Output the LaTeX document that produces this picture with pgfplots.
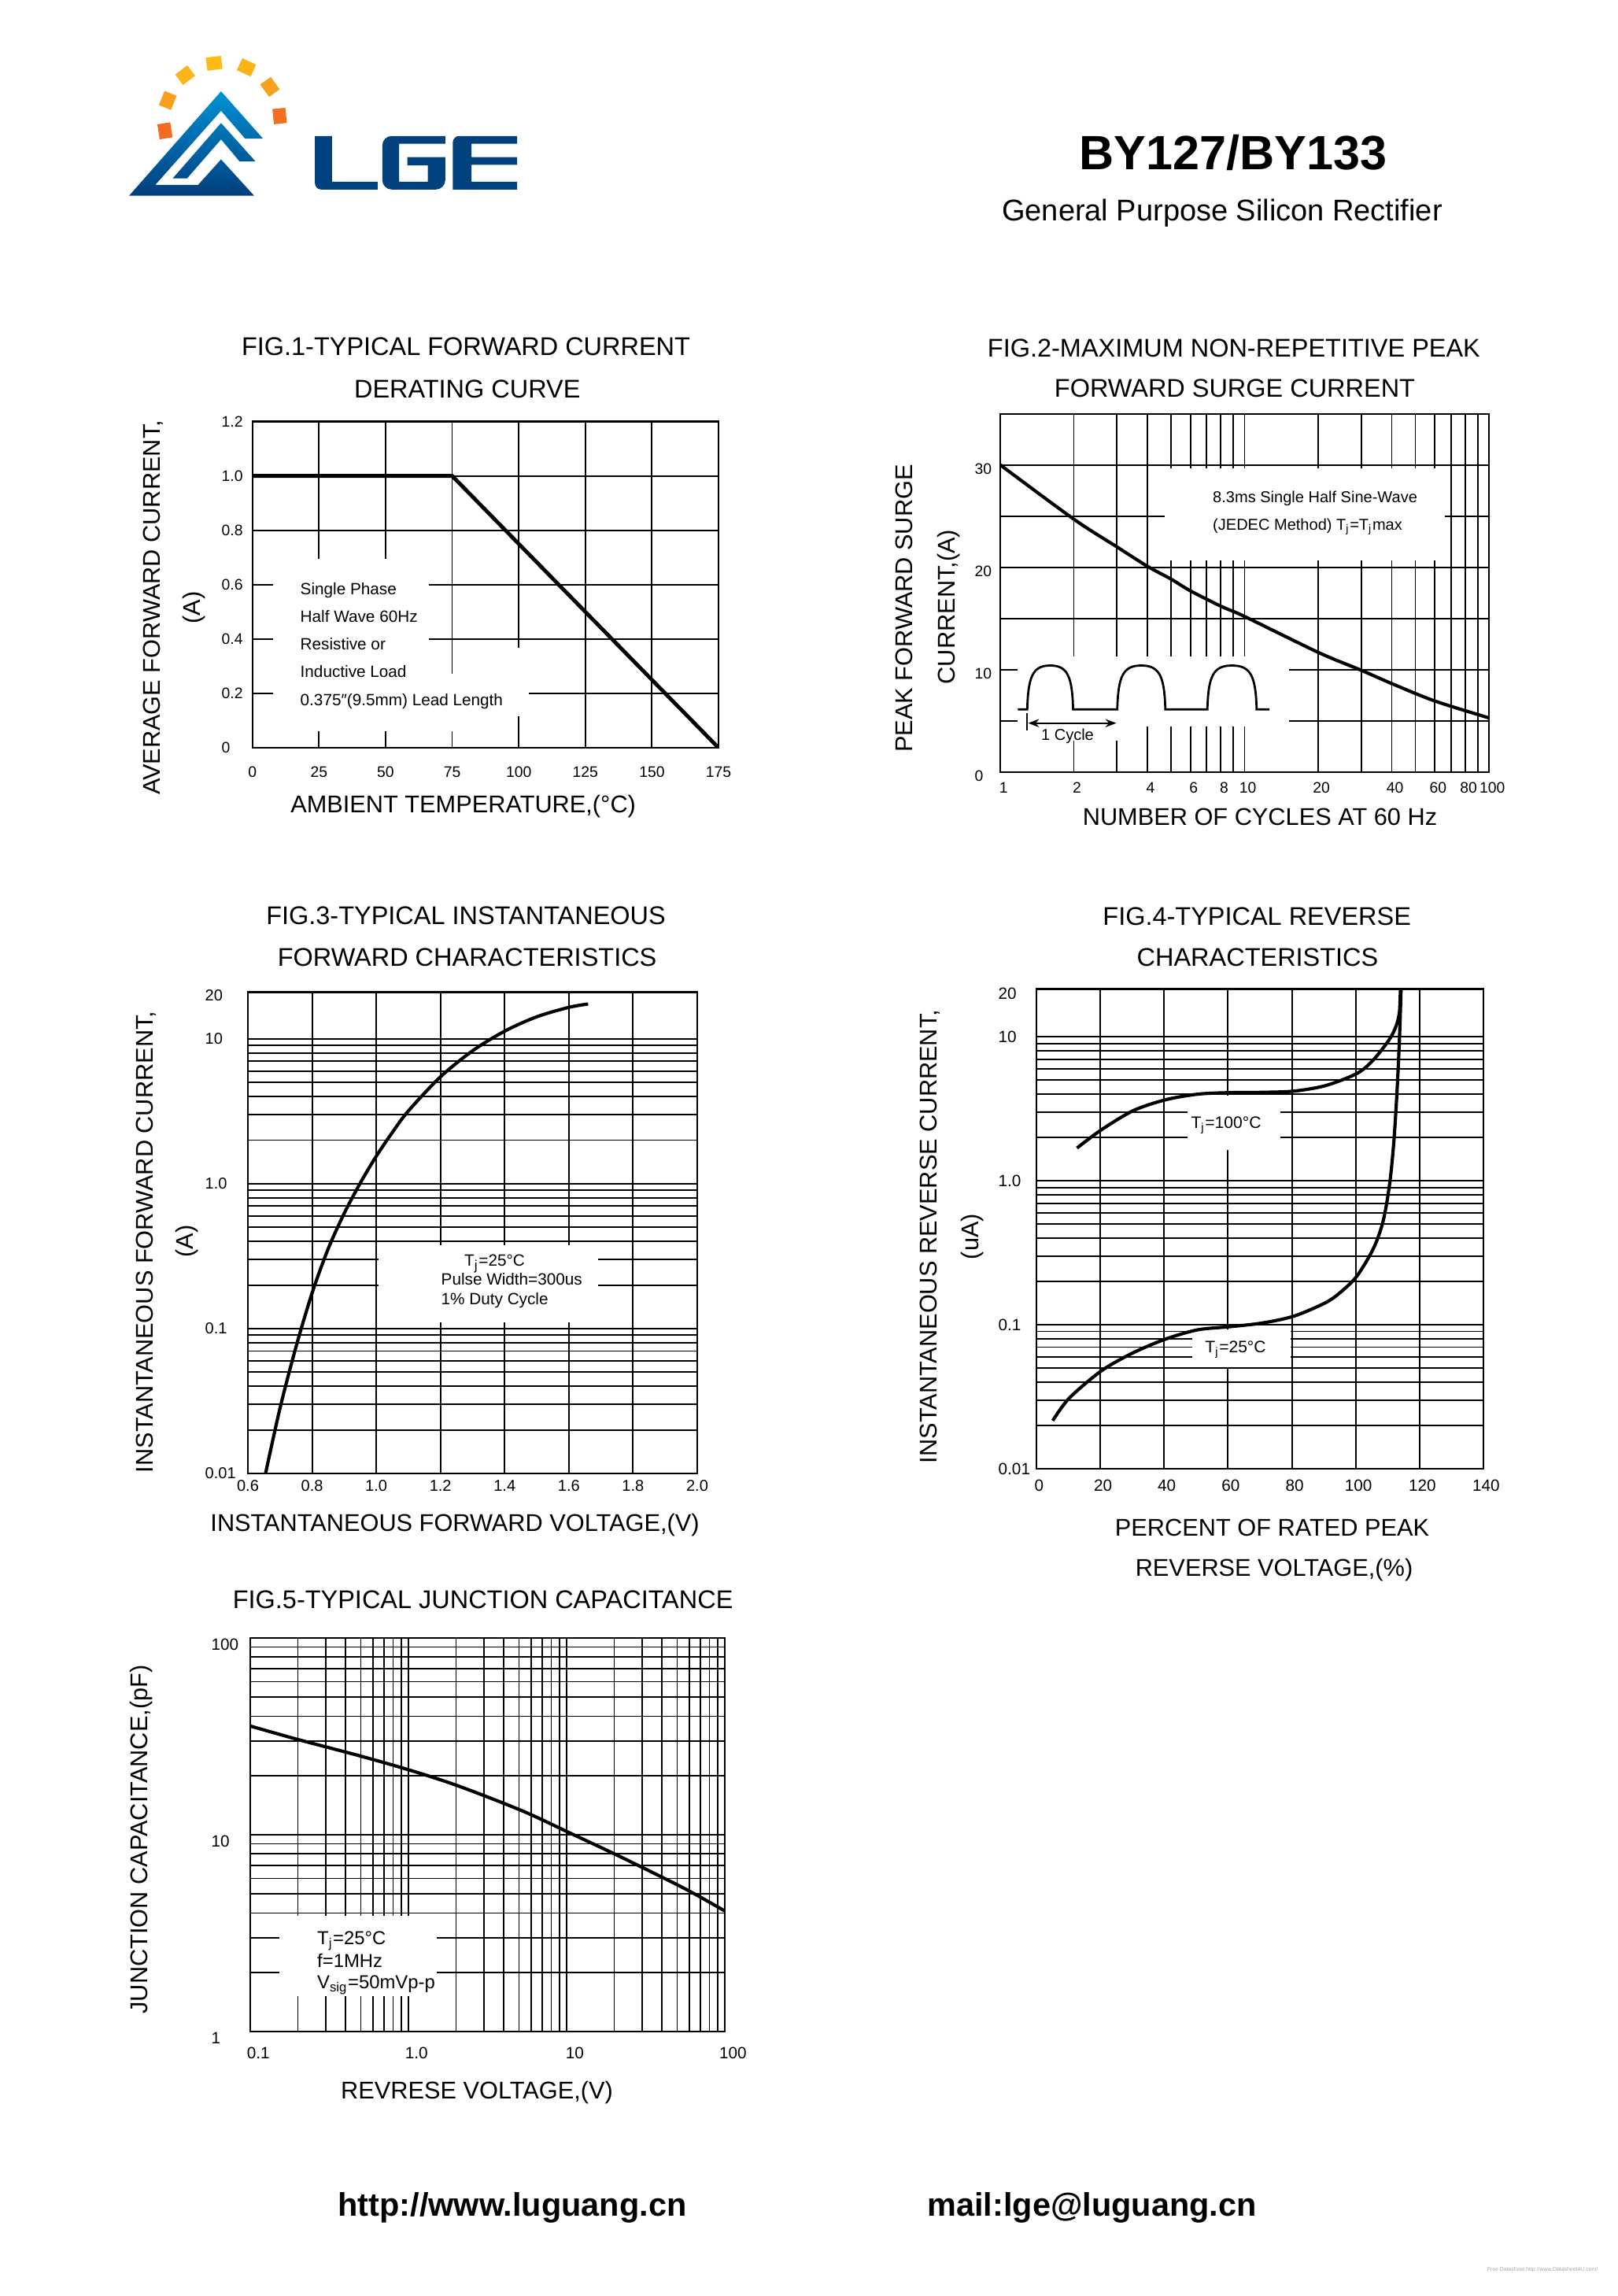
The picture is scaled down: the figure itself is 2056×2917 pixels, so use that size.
\documentclass[border=0pt]{standalone}
\usepackage{fontspec}
\setmainfont{Liberation Sans}
\usepackage{pgfplots}
\pgfplotsset{compat=1.18}
\usetikzlibrary{arrows.meta}
\definecolor{lgeblue}{RGB}{0,65,126}
\definecolor{logotop}{RGB}{0,146,214}
\definecolor{logobot}{RGB}{0,62,124}
\newcommand\fs[1]{\fontsize{#1}{#1}\selectfont}

\pgfplotsset{
 ds/.style={
  scale only axis, anchor=south west,
  axis line style={line width=0.6pt, black},
  grid style={line width=0.55pt, black},
  major grid style={line width=0.55pt, black},
  minor grid style={line width=0.55pt, black},
  major tick length=0pt, minor tick length=0pt,
  tick style={draw=none},
  /pgf/number format/assume math mode=true,
  every tick label/.append style={inner sep=0pt, text=black},
 },
}

\begin{document}
\begin{tikzpicture}[x=0.289531pt, y=-0.289531pt]
\path[use as bounding box] (0,0) rectangle (2056,2917);
\coordinate (f1) at (320.7,950);
\coordinate (f2) at (1271,981);
\coordinate (f3) at (315,1872);
\coordinate (f4) at (1317,1866);
\coordinate (f5) at (318,2581);

% ---------------- Logo ----------------
\shade[top color=logotop, bottom color=logobot]
 (164.0,248.7) -- (280.9,116.0) -- (334.2,176.1) -- (311.4,176.1) -- (280.9,140.8) -- (197.4,234.8) -- (251.8,234.8) -- (280.9,202.5) -- (323.0,248.7) -- cycle
 (219.5,226.6) -- (280.9,156.3) -- (324.7,205.1) -- (304.4,205.1) -- (280.9,177.1) -- (237.7,226.6) -- cycle;
\foreach \px/\py/\ang/\col in {209.6/166.2/188.9/F26B21, 213.2/127.6/158/F8A01D, 235.3/95.5/127.5/FBB419, 272.1/80.4/96.8/FDBB14, 313.2/85.6/65.1/FBB219, 343.0/110.4/35.7/F7A11F, 355.3/147.4/5.8/F37021}{
  \definecolor{sq}{HTML}{\col}
  \node[fill=sq, inner sep=0pt, minimum width=4.8pt, minimum height=5.6pt, rotate=\ang] at (\px,\py) {};
}
\fill[lgeblue] (400.2,172.8) -- (421.9,172.8) -- (421.9,230.9) -- (479.8,230.9) -- (479.8,240.8) -- (408.2,240.8) .. controls (403.8,240.8) and (400.2,237.2) .. (400.2,232.8) -- cycle;
\fill[lgeblue] (565.8,172.8) -- (497.8,172.8) .. controls (491.2,172.8) and (485.8,178.2) .. (485.8,184.8) -- (485.8,228.8) .. controls (485.8,235.4) and (491.2,240.8) .. (497.8,240.8) -- (553.8,240.8) .. controls (560.4,240.8) and (565.8,235.4) .. (565.8,228.8) -- (565.8,199.5) -- (517.7,199.5) -- (517.7,210.1) -- (543.7,210.1) -- (543.7,230.9) -- (507.2,230.9) -- (507.2,182.7) -- (565.8,182.7) -- cycle;
\fill[lgeblue] (575.4,240.8) -- (575.4,180.8) .. controls (575.4,176.4) and (579,172.8) .. (583.4,172.8) -- (657,172.8) -- (657,182.7) -- (599.1,182.7) -- (599.1,199.5) -- (657,199.5) -- (657,209.4) -- (599.1,209.4) -- (599.1,230.9) -- (657,230.9) -- (657,240.8) -- cycle;

% ---------------- Header ----------------
\node[anchor=base, font=\fs{17.7}\bfseries] at (1566.7,215.4) {BY127/BY133};
\node[anchor=base, font=\fs{11}] at (1553,280) {General Purpose Silicon Rectifier};

% ---------------- FIG 1 ----------------
\begin{axis}[ds, at={(f1)}, width=171.49pt, height=120.01pt,
 xmin=0, xmax=175, ymin=0, ymax=1.2,
 xtick={0,25,50,75,100,125,150,175}, xticklabels={0,25,50,75,100,125,150,175},
 ytick={0,0.2,0.4,0.6,0.8,1.0,1.2}, yticklabels={0,0.2,0.4,0.6,0.8,1.0,1.2},
 grid=major,
 tick label style={font=\fs{5.6}},
 yticklabel style={anchor=west, xshift=-11.49pt},
 xticklabel style={anchor=base, yshift=-10.71pt},
]
\fill[white] (axis cs:7.9,0.271) rectangle (axis cs:66.2,0.694);
\fill[white] (axis cs:7.9,0.060) rectangle (axis cs:90,0.271);
\fill[white] (axis cs:90,0.115) rectangle (axis cs:103.8,0.368);
\addplot[line width=1.4pt, black] coordinates {(0,1.0) (75,1.0) (175,0)};
\end{axis}
\node[anchor=base, font=\fs{9.4}] at (592,451) {FIG.1-TYPICAL FORWARD CURRENT};
\node[anchor=base, font=\fs{9.4}] at (593.8,505.4) {DERATING CURVE};
\node[anchor=base, font=\fs{8.9}] at (588.6,1032) {AMBIENT TEMPERATURE,(°C)};
\node[anchor=base, rotate=90, font=\fs{8.9}] at (203.6,772) {AVERAGE FORWARD CURRENT,};
\node[anchor=base, rotate=90, font=\fs{8.9}] at (254.4,772) {(A)};
\begin{scope}[font=\fs{6}]
\node[anchor=base west] at (369.5,755.1) {Single Phase};
\node[anchor=base west] at (369.5,790.3) {Half Wave 60Hz};
\node[anchor=base west] at (369.5,825.4) {Resistive or};
\node[anchor=base west] at (369.5,860.6) {Inductive Load};
\node[anchor=base west] at (369.5,896) {0.375″(9.5mm) Lead Length};
\end{scope}

% ---------------- FIG 2 ----------------
\begin{axis}[ds, at={(f2)}, width=179.80pt, height=131.88pt,
 xmode=log, xmin=1, xmax=100, ymin=0, ymax=35,
 xtick={1,2,4,6,8,10,20,40,60,80,100}, xticklabels={1,2,4,6,8,10,20,40,60,80,100},
 minor xtick={3,5,7,9,30,50,70,90},
 ytick={0,10,20,30}, yticklabels={0,10,20,30}, minor ytick={5,15,25},
 grid=both,
 tick label style={font=\fs{5.6}},
 yticklabel style={anchor=west, xshift=-9.55pt, yshift=-1.4pt},
 xticklabel style={anchor=base, yshift=-7.53pt, xshift=1.2pt},
]
\fill[white] (axis cs:4.70,20.7) rectangle (axis cs:65.8,29.65);
\fill[white] (axis cs:1.18,4.45) rectangle (axis cs:15.2,11.3);
\fill[white] (axis cs:1.9,3.1) rectangle (axis cs:3.1,4.45);
\addplot[line width=1.2pt, black, smooth] coordinates {(1,30) (2,24.7) (3,22.0) (4,20.1) (5,18.85) (6,17.7) (8,16.2) (10,15.2) (20,11.7) (30,9.95) (40,8.65) (60,6.95) (100,5.3)};
\end{axis}
\node[anchor=base, font=\fs{9.4}] at (1567.9,453) {FIG.2-MAXIMUM NON-REPETITIVE PEAK};
\node[anchor=base, font=\fs{9.4}] at (1569,504) {FORWARD SURGE CURRENT};
\node[anchor=base, font=\fs{8.9}] at (1601,1048) {NUMBER OF CYCLES AT 60 Hz};
\node[anchor=base, rotate=90, font=\fs{8.9}] at (1159,773) {PEAK FORWARD SURGE};
\node[anchor=base, rotate=90, font=\fs{8.9}] at (1213,771) {CURRENT,(A)};
\node[anchor=base west, font=\fs{5.8}] at (1529,638) {8.3ms Single Half Sine-Wave};
\node[anchor=base west, font=\fs{5.8}] at (1529,673) {(JEDEC Method) T\textsubscript{j}=T\textsubscript{j}max};
\draw[line width=0.8pt] (1293.3,901.3) -- (1305.3,901.3)
 .. controls (1306.5,860) and (1312,845.5) .. (1334.4,845.5) .. controls (1357,845.5) and (1362.4,860) .. (1363.6,901.3)
 -- (1419.7,901.3)
 .. controls (1420.9,860) and (1426.4,845.5) .. (1450.2,845.5) .. controls (1474,845.5) and (1479.6,860) .. (1480.8,901.3)
 -- (1534.2,901.3)
 .. controls (1535.4,860) and (1540.9,845.5) .. (1565.5,845.5) .. controls (1590,845.5) and (1595.6,860) .. (1596.8,901.3)
 -- (1613.2,901.3);
\draw[line width=0.6pt, {Stealth[length=4pt,width=3pt]}-{Stealth[length=4pt,width=3pt]}] (1306.5,918.7) -- (1418.5,918.7);
\draw[line width=0.6pt] (1305.3,905.7) -- (1305.3,927.5);
\node[anchor=base, font=\fs{5.8}] at (1356.5,940.6) {1 Cycle};

% ---------------- FIG 3 ----------------
\begin{axis}[ds, at={(f3)}, width=165.32pt, height=177.05pt,
 xmin=0.6, xmax=2.0, ymode=log, ymin=0.01, ymax=21,
 xtick={0.6,0.8,1.0,1.2,1.4,1.6,1.8,2.0}, xticklabels={0.6,0.8,1.0,1.2,1.4,1.6,1.8,2.0},
 ytick={0.01,0.1,1,10}, yticklabels={0.01,0.1,1.0,10},
 extra y ticks={20}, extra y tick labels={20}, extra y tick style={grid=none},
 minor ytick={0.02,0.03,0.04,0.05,0.06,0.07,0.08,0.09,0.2,0.3,0.4,0.5,0.6,0.7,0.8,0.9,2,3,4,5,6,7,8,9},
 grid=both,
 tick label style={font=\fs{5.8}},
 yticklabel style={anchor=west, xshift=-15.92pt},
 xticklabel style={anchor=base, yshift=-6.49pt},
]
\fill[white] (axis cs:1.006,0.110) rectangle (axis cs:1.692,0.375);
\addplot[line width=1.2pt, black, smooth, tension=0.5] coordinates {(0.655,0.01) (0.70,0.0282) (0.75,0.075) (0.80,0.176) (0.85,0.355) (0.90,0.624) (0.95,1.01) (1.0,1.55) (1.05,2.26) (1.1,3.18) (1.2,5.47) (1.3,8.27) (1.4,11.3) (1.5,14.2) (1.6,16.5) (1.66,17.4)};
\end{axis}
\node[anchor=base, font=\fs{9.4}] at (592,1174.3) {FIG.3-TYPICAL INSTANTANEOUS};
\node[anchor=base, font=\fs{9.4}] at (593.6,1227.2) {FORWARD CHARACTERISTICS};
\node[anchor=base, font=\fs{8.9}] at (578,1945) {INSTANTANEOUS FORWARD VOLTAGE,(V)};
\node[anchor=base, rotate=90, font=\fs{8.9}] at (194,1578) {INSTANTANEOUS FORWARD CURRENT,};
\node[anchor=base, rotate=90, font=\fs{8.9}] at (245.5,1577) {(A)};
\node[anchor=base, font=\fs{6}] at (628.5,1608) {T\textsubscript{j}=25°C};
\node[anchor=base west, font=\fs{6}] at (548.5,1632.4) {Pulse Width=300us};
\node[anchor=base west, font=\fs{6}] at (548.5,1657.4) {1\% Duty Cycle};

% ---------------- FIG 4 ----------------
\begin{axis}[ds, at={(f4)}, width=164.45pt, height=176.47pt,
 xmin=0, xmax=140, ymode=log, ymin=0.01, ymax=21.5,
 xtick={0,20,40,60,80,100,120,140}, xticklabels={0,20,40,60,80,100,120,140},
 ytick={0.01,0.1,1,10}, yticklabels={0.01,0.1,1.0,10},
 extra y ticks={20}, extra y tick labels={20}, extra y tick style={grid=none},
 minor ytick={0.02,0.03,0.04,0.05,0.06,0.07,0.08,0.09,0.2,0.3,0.4,0.5,0.6,0.7,0.8,0.9,2,3,4,5,6,7,8,9},
 grid=both,
 tick label style={font=\fs{6}},
 yticklabel style={anchor=west, xshift=-14.19pt},
 xticklabel style={anchor=base, yshift=-8.3pt, xshift=1pt},
]
\fill[white] (axis cs:47.4,1.63) rectangle (axis cs:76.3,3.89);
\fill[white] (axis cs:48.7,0.0508) rectangle (axis cs:79.7,0.0923);
\addplot[line width=1.2pt, black, smooth] coordinates {(12.7,1.69) (20.3,2.26) (30.4,3.08) (40.5,3.66) (50.5,4.0) (60.5,4.1) (70.6,4.12) (80.6,4.2) (90.6,4.59) (100.5,5.59) (105.6,6.95) (110.6,9.64) (112.7,12.0) (113.7,14.9) (114.0,21.5)};
\addplot[line width=1.2pt, black, smooth] coordinates {(5.1,0.0216) (10.3,0.031) (20.4,0.048) (30.4,0.0641) (40.5,0.0797) (50.5,0.0923) (60.5,0.097) (70.6,0.1028) (80.6,0.1148) (90.6,0.1426) (95.6,0.171) (100.5,0.22) (105.6,0.341) (108.6,0.527) (110.6,0.942) (111.9,1.82) (112.9,4.03) (113.7,9.64) (114.2,21.5)};
\end{axis}
\node[anchor=base, font=\fs{9.4}] at (1597.2,1175.1) {FIG.4-TYPICAL REVERSE};
\node[anchor=base, font=\fs{9.4}] at (1598,1227) {CHARACTERISTICS};
\node[anchor=base, font=\fs{8.9}] at (1616.5,1951.5) {PERCENT OF RATED PEAK};
\node[anchor=base, font=\fs{8.9}] at (1619,2002.5) {REVERSE VOLTAGE,(\%)};
\node[anchor=base, rotate=90, font=\fs{8.9}] at (1190.5,1571) {INSTANTANEOUS REVERSE CURRENT,};
\node[anchor=base, rotate=90, font=\fs{8.9}] at (1243.5,1571) {(uA)};
\node[anchor=base, font=\fs{6.1}] at (1558,1433.5) {T\textsubscript{j}=100°C};
\node[anchor=base, font=\fs{6.1}] at (1570,1718.5) {T\textsubscript{j}=25°C};

% ---------------- FIG 5 ----------------
\begin{axis}[ds, at={(f5)}, width=174.59pt, height=144.77pt,
 xmode=log, ymode=log, xmin=0.1, xmax=100, ymin=1, ymax=100,
 xtick={0.1,1,10,100}, xticklabels={0.1,1.0,10,100},
 minor xtick={0.2,0.3,0.4,0.5,0.6,0.7,0.8,0.9,2,3,4,5,6,7,8,9,20,30,40,50,60,70,80,90},
 ytick={1,10,100}, yticklabels={1,10,100},
 minor ytick={2,3,4,5,6,7,8,9,20,30,40,50,60,70,80,90},
 grid=both,
 tick label style={font=\fs{6}},
 yticklabel style={anchor=west, xshift=-14.48pt, yshift=-2.3pt},
 xticklabel style={anchor=base, yshift=-9.96pt, xshift=3pt},
]
\fill[white] (axis cs:0.153,1.51) rectangle (axis cs:1.51,3.87);
\addplot[line width=1.2pt, black, smooth] coordinates {(0.1,35.7) (0.2,30.5) (0.5,25.1) (1.02,21.3) (2.07,17.7) (5.28,13.2) (10.8,10.1) (21.9,7.73) (55.7,5.33) (100,4.1)};
\end{axis}
\node[anchor=base, font=\fs{9.4}] at (613.6,2043.9) {FIG.5-TYPICAL JUNCTION CAPACITANCE};
\node[anchor=base, font=\fs{8.9}] at (606,2666) {REVRESE VOLTAGE,(V)};
\node[anchor=base, rotate=90, font=\fs{8.9}] at (187,2337) {JUNCTION CAPACITANCE,(pF)};
\node[anchor=base west, font=\fs{6.9}] at (391,2470.5) {T\textsubscript{j}=25°C};
\node[anchor=base west, font=\fs{6.9}] at (391,2499) {f=1MHz};
\node[anchor=base west, font=\fs{6.9}] at (391,2526.7) {V\textsubscript{sig}=50mVp-p};

% ---------------- Footer ----------------
\node[anchor=base, font=\fs{12}\bfseries] at (651,2815) {http://www.luguang.cn};
\node[anchor=base, font=\fs{12}\bfseries] at (1387.5,2815) {mail:lge@luguang.cn};
\node[anchor=base, font=\fs{2}, text=black!35] at (1960,2885) {Free Datasheet http://www.Datasheet4U.com/};
\end{tikzpicture}
\end{document}
